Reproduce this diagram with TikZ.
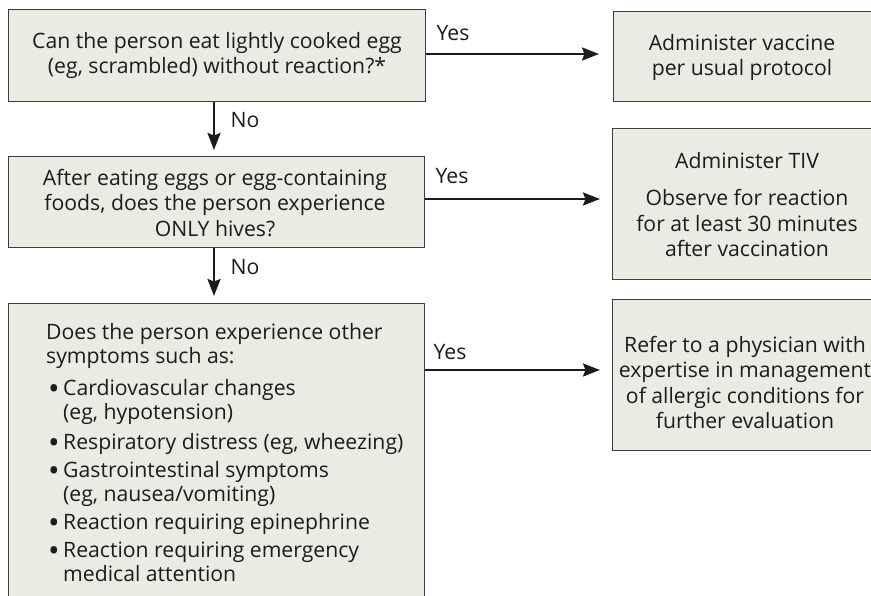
\documentclass[tikz,border=0pt]{standalone}
\usepackage{fontspec}
\setmainfont{Open Sans}
\usetikzlibrary{arrows.meta}
\definecolor{boxfill}{HTML}{EBEAE3}
\definecolor{boxline}{HTML}{3C3C3C}
\definecolor{ink}{HTML}{1E1B1C}
\newcommand{\blt}{\hspace*{2pt}\makebox[15pt][l]{\raisebox{-3.6pt}{\scalebox{1.45}{\textbullet}}}}
\newcommand{\hang}{\hspace*{17pt}}
\begin{document}
\begin{tikzpicture}[x=1pt,y=-1pt,
  font=\fontsize{21.2}{25.5}\selectfont,
  box/.style={draw=boxline, line width=1.2pt, fill=boxfill, inner sep=0pt, anchor=north west},
  txt/.style={align=center, inner sep=0pt, text=ink},
  lbl/.style={inner sep=0pt, text=ink},
  arr/.style={draw=ink, line width=2.4pt, -{Stealth[length=17pt,width=13pt,inset=2.5pt]}}]
\useasboundingbox (0,0) rectangle (871,596);
\clip (0,0) rectangle (871,596);
% left column
\node[box, minimum width=417pt, minimum height=92pt] (b1) at (8,9) {};
\node[box, minimum width=416pt, minimum height=91pt] (b2) at (8,156) {};
\node[box, minimum width=416pt, minimum height=330pt] (b3) at (8,303) {};
% right column
\node[box, minimum width=270pt, minimum height=90pt] (r1) at (613,11) {};
\node[box, minimum width=270pt, minimum height=151pt] (r2) at (612,128) {};
\node[box, minimum width=270pt, minimum height=151pt] (r3) at (612,299) {};
% texts
\node[txt] (t1) at (217,55.5) {Can the person eat lightly cooked egg\\(eg, scrambled) without reaction?*};
\node[txt] (t2) at (215,203) {After eating eggs or egg-containing\\foods, does the person experience\\ONLY hives?};
\node[txt, align=left, anchor=north west, font=\fontsize{21.2}{24}\selectfont] (t3) at (46,323.5) {Does the person experience other\\
symptoms such as:\\[8pt]
\blt Cardiovascular changes\\
\hang (eg, hypotension)\\[6pt]
\blt Respiratory distress (eg, wheezing)\\[4pt]
\blt Gastrointestinal symptoms\\
\hang (eg, nausea/vomiting)\\[4pt]
\blt Reaction requiring epinephrine\\[4pt]
\blt Reaction requiring emergency\\
\hang medical attention};
\node[txt] (u1) at (742,57.5) {Administer vaccine\\per usual protocol};
\node[txt] (u2) at (747,204.5) {Administer TIV\\[12pt]Observe for reaction\\for at least 30 minutes\\after vaccination};
\node[txt] (u3) at (745,382.5) {Refer to a physician with\\expertise in management\\of allergic conditions for\\further evaluation};
% connectors
\coordinate (y1) at (0,54);
\coordinate (y2) at (0,199);
\coordinate (y3) at (0,370);
\coordinate (xd) at (214,0);
\draw[arr, shorten >=14pt] (b1.east |- y1) -- (r1.west |- y1);
\draw[arr, shorten >=12pt] (b2.east |- y2) -- (r2.west |- y2);
\draw[arr, shorten >=12pt] (b3.east |- y3) -- (r3.west |- y3);
\draw[arr, shorten >=6pt] (b1.south -| xd) -- (b2.north -| xd);
\draw[arr, shorten >=7pt] (b2.south -| xd) -- (b3.north -| xd);
% labels
\node[lbl] (l1) at (453,33) {Yes};
\node[lbl] (l2) at (452,176) {Yes};
\node[lbl] (l3) at (450,352) {Yes};
\node[lbl] (n1) at (245,120) {No};
\node[lbl] (n2) at (245,267) {No};
\end{tikzpicture}
\end{document}
